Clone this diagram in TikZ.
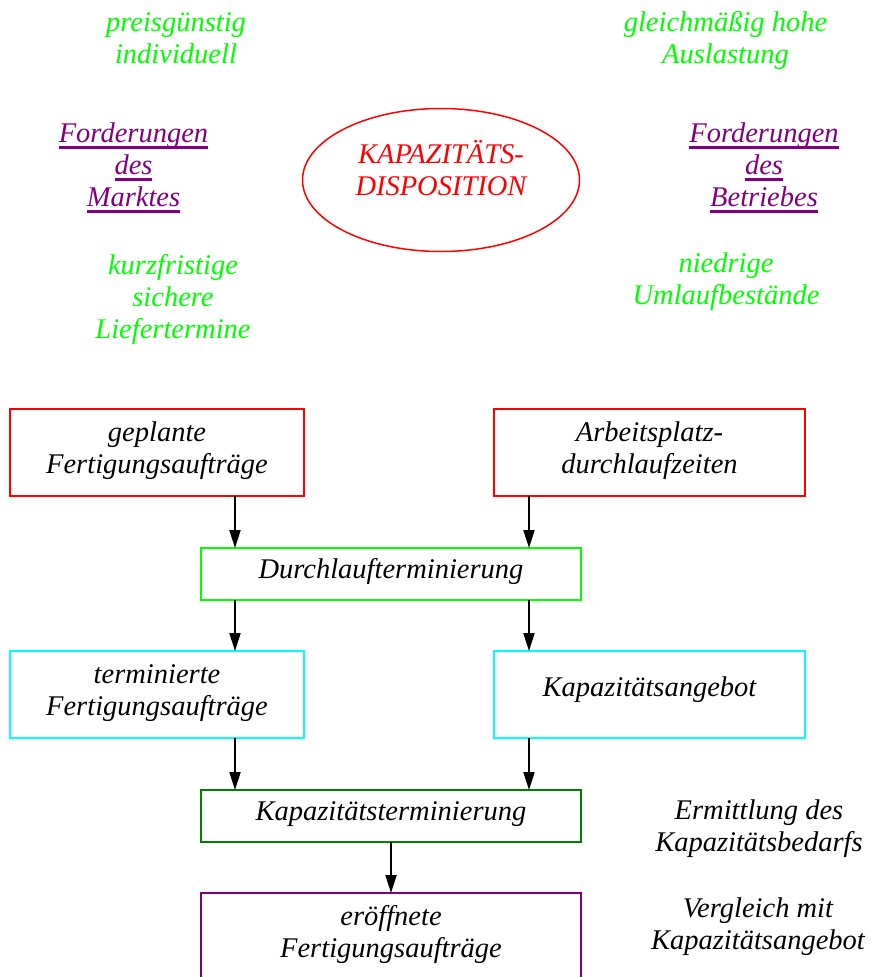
\documentclass[tikz,border=0pt]{standalone}
\usepackage{fontspec}
\setmainfont{Liberation Serif}
\usetikzlibrary{arrows.meta,shapes.geometric}

\definecolor{cred}{HTML}{FF0000}
\definecolor{cgreen}{HTML}{00FF00}
\definecolor{ccyan}{HTML}{00FFFF}
\definecolor{cdkgreen}{HTML}{008000}
\definecolor{cpurple}{HTML}{800080}

% struts that fix the height of the first line and the depth of the last line
\newcommand\tst{\rule{0pt}{21pt}}
\newcommand\bst{\rule[-18pt]{0pt}{18pt}}
\newcommand\bxst{\rule[-12pt]{0pt}{12pt}}
% thick underline in the current text colour
\newsavebox\ulbox
\newcommand\purl[1]{\sbox\ulbox{#1}\rlap{\rule[-6pt]{\wd\ulbox}{2.2pt}}\usebox\ulbox}

\tikzset{
  txt/.style={font=\fontsize{28.5}{32}\selectfont\itshape, align=center, inner sep=0pt, outer sep=0pt},
  goal/.style={txt, text=cgreen},
  req/.style={txt, text=cpurple},
  note/.style={txt, text=black},
  box/.style={txt, draw, line width=1.5pt, minimum width=#1, outer sep=0pt},
  tall/.style={minimum height=87pt},
  flat/.style={minimum height=52pt},
  ell/.style={txt, ellipse, draw=cred, text=cred, line width=1.5pt,
              minimum width=277pt, minimum height=143pt},
  arr/.style={line width=2pt, -{Triangle[length=18pt,width=11pt]}}
}

\begin{document}
\begin{tikzpicture}[x=1pt,y=-1pt]
\useasboundingbox (0,0) rectangle (875,977);

% requirements of market and company around the central ellipse
\node[goal] (preis)  at (176,46)    {\tst preisgünstig\\individuell\bst};
\node[goal] (gleich) at (725.5,46)  {\tst gleichmäßig hohe\\Auslastung\bst};
\node[req]  (fmarkt) at (133.5,173) {\tst\purl{Forderungen}\\\purl{des}\\\purl{Marktes}\bst};
\node[req]  (fbetr)  at (764,173)   {\tst\purl{Forderungen}\\\purl{des}\\\purl{Betriebes}\bst};
\node[ell]  (disp)   at (441,180)   {\tst KAPAZITÄTS-\\DISPOSITION\rule[-24pt]{0pt}{24pt}};
\node[goal] (kurz)   at (173,304.5) {\tst kurzfristige\\sichere\\Liefertermine\bst};
\node[goal] (niedr)  at (726,287)   {\tst niedrige\\Umlaufbestände\bst};

% flow of the capacity planning
\node[box=294pt, tall, draw=cred]     (geplant) at (157,452.5)   {\tst geplante\\Fertigungsaufträge\bxst};
\node[box=311pt, tall, draw=cred]     (apdlz)   at (649.5,452.5) {\tst Arbeitsplatz-\\durchlaufzeiten\bxst};
\node[box=380pt, flat, draw=cgreen]   (dlt)     at (391,574)     {\tst Durchlaufterminierung\bxst};
\node[box=294pt, tall, draw=ccyan]    (termin)  at (157,694.5)   {\tst terminierte\\Fertigungsaufträge\bxst};
\node[box=311pt, tall, draw=ccyan]    (kapang)  at (649.5,694.5) {\tst Kapazitätsangebot\bst};
\node[box=380pt, flat, draw=cdkgreen] (kapterm) at (391,816)     {\tst Kapazitätsterminierung\bxst};
\node[box=380pt, tall, draw=cpurple]  (eroeff)  at (391,936.5)   {\tst eröffnete\\Fertigungsaufträge\bxst};

\node[note] (ermit) at (759,834) {\tst Ermittlung des\\Kapazitätsbedarfs\bst};
\node[note] (vergl) at (758,932) {\tst Vergleich mit\\Kapazitätsangebot\bst};

% arrow columns
\coordinate (xl) at (235,0);
\coordinate (xr) at (529,0);

\draw[arr] (geplant.south -| xl) -- (dlt.north -| xl);
\draw[arr] (apdlz.south -| xr)   -- (dlt.north -| xr);
\draw[arr] (dlt.south -| xl)     -- (termin.north -| xl);
\draw[arr] (dlt.south -| xr)     -- (kapang.north -| xr);
\draw[arr] (termin.south -| xl)  -- (kapterm.north -| xl);
\draw[arr] (kapang.south -| xr)  -- (kapterm.north -| xr);
\draw[arr] (kapterm.south)       -- (eroeff.north);
\end{tikzpicture}
\end{document}
